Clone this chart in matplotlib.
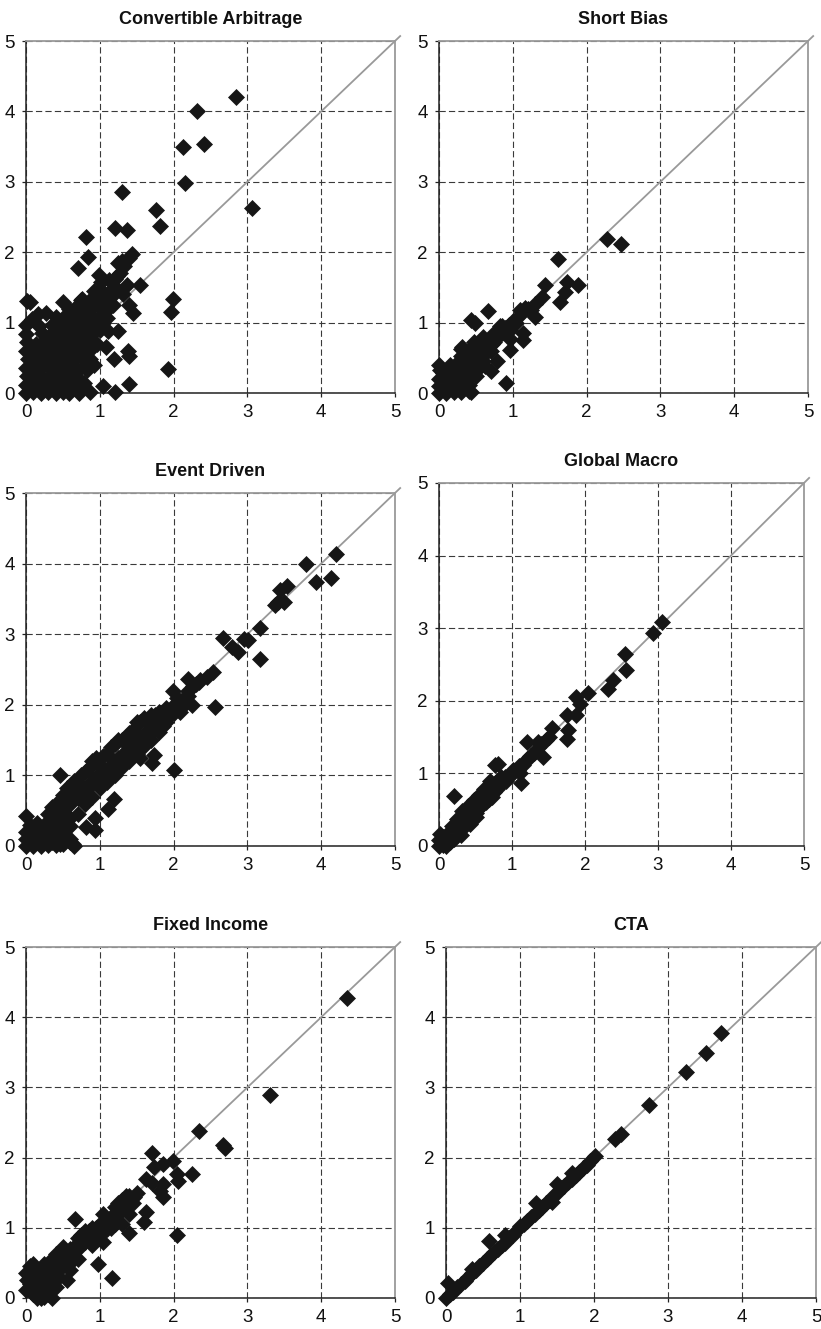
import matplotlib
matplotlib.use("Agg")
import matplotlib.pyplot as plt

plt.rcParams['font.family'] = ['Liberation Sans', 'DejaVu Sans']
plt.rcParams['lines.scale_dashes'] = False

# ---------------- data ----------------
titles = ["Convertible Arbitrage", "Short Bias", "Event Driven",
          "Global Macro", "Fixed Income", "CTA"]
tick_values = [0, 1, 2, 3, 4, 5]

# Convertible Arbitrage
ca_out_x = [2.85, 2.32, 2.41, 2.13, 2.16, 3.06, 1.30, 1.76, 1.81, 1.20,
            1.37, 0.81, 0.84, 0.71, 1.43, 1.39, 1.25, 1.23, 0.99, 1.54,
            1.37, 1.32, 1.39, 1.45, 1.99, 1.96, 1.92, 1.40, 1.21, 1.04,
            1.25, 1.11, 1.19, 1.38, 1.39, 1.09, 0.96, 0.92, 0.87, 0.83,
            0.01, 0.06, 0.27, 0.16, 0.08, 0.50, 0.00, 0.76]
ca_out_y = [4.20, 4.00, 3.53, 3.50, 2.98, 2.63, 2.85, 2.60, 2.37, 2.34,
            2.32, 2.21, 1.93, 1.77, 1.98, 1.92, 1.85, 1.66, 1.68, 1.53,
            1.54, 1.40, 1.25, 1.13, 1.34, 1.15, 0.34, 0.13, 0.01, 0.10,
            0.88, 0.88, 0.49, 0.60, 0.52, 0.65, 0.70, 0.40, 0.48, 0.32,
            1.30, 1.29, 1.14, 1.12, 1.05, 1.29, 0.97, 1.34]
ca_core_x = [0.00, 0.10, 0.20, 0.30, 0.40, 0.50, 0.58, 0.72, 0.87,
             0.00, 0.08, 0.18, 0.28, 0.38, 0.48, 0.60, 0.68, 0.78,
             0.02, 0.12, 0.22, 0.32, 0.42, 0.52, 0.62, 0.72,
             0.00, 0.10, 0.20, 0.30, 0.40, 0.50, 0.60, 0.70, 0.80,
             0.03, 0.13, 0.23, 0.33, 0.43, 0.53, 0.63, 0.73,
             0.00, 0.10, 0.20, 0.30, 0.40, 0.50, 0.60, 0.70, 0.80, 0.90,
             0.02, 0.14, 0.25, 0.35, 0.45, 0.55, 0.65, 0.75, 0.85,
             0.00, 0.22, 0.32, 0.42, 0.52, 0.62, 0.72, 0.82, 0.92, 1.00,
             0.18, 0.35, 0.45, 0.55, 0.65, 0.75, 0.85, 0.95, 1.05,
             0.40, 0.50, 0.60, 0.70, 0.80, 0.90, 1.00, 1.10,
             0.58, 0.68, 0.78, 0.90, 1.00, 1.10, 1.18,
             0.74, 0.86, 0.96, 1.06, 1.15,
             0.92, 1.02, 1.12, 1.20,
             1.02, 1.12, 1.20, 1.28, 1.33, 1.30]
ca_core_y = [0.00, 0.01, 0.00, 0.02, 0.00, 0.01, 0.00, 0.00, 0.01,
             0.12, 0.10, 0.13, 0.11, 0.12, 0.10, 0.13, 0.08, 0.14,
             0.24, 0.25, 0.23, 0.24, 0.26, 0.22, 0.25, 0.20,
             0.36, 0.37, 0.35, 0.38, 0.36, 0.34, 0.37, 0.33, 0.38,
             0.48, 0.50, 0.47, 0.49, 0.48, 0.50, 0.46, 0.52,
             0.60, 0.62, 0.58, 0.61, 0.60, 0.63, 0.59, 0.62, 0.60, 0.64,
             0.72, 0.70, 0.74, 0.72, 0.73, 0.71, 0.74, 0.72, 0.75,
             0.84, 0.85, 0.83, 0.86, 0.84, 0.86, 0.83, 0.87, 0.86, 0.90,
             0.95, 0.97, 0.96, 0.98, 0.95, 0.97, 0.99, 0.96, 1.00,
             1.08, 1.06, 1.09, 1.07, 1.10, 1.08, 1.10, 1.06,
             1.20, 1.22, 1.19, 1.21, 1.23, 1.18, 1.25,
             1.32, 1.30, 1.34, 1.31, 1.36,
             1.45, 1.47, 1.44, 1.50,
             1.58, 1.60, 1.62, 1.70, 1.80, 1.88]

# Short Bias
sb_out_x = [2.27, 2.47, 1.61, 1.88, 1.73, 1.71, 1.64, 1.43, 1.40, 1.30,
            1.30, 1.16, 1.10, 0.67, 0.43, 0.49, 1.14, 1.14, 0.96, 0.96,
            0.91, 0.71, 0.43, 0.31, 0.78, 1.05, 0.96]
sb_out_y = [2.19, 2.11, 1.90, 1.54, 1.58, 1.44, 1.29, 1.53, 1.36, 1.27,
            1.08, 1.21, 1.18, 1.17, 1.03, 1.00, 0.75, 0.85, 0.76, 0.61,
            0.14, 0.31, 0.02, 0.66, 0.45, 1.00, 0.90]
sb_core_x = [0.00, 0.10, 0.20, 0.30, 0.40,
             0.00, 0.10, 0.20, 0.30, 0.40,
             0.00, 0.10, 0.20, 0.30, 0.40, 0.50,
             0.02, 0.12, 0.22, 0.32, 0.42, 0.52, 0.62,
             0.00, 0.15, 0.25, 0.35, 0.45, 0.55,
             0.30, 0.40, 0.50, 0.60, 0.70,
             0.30, 0.42, 0.52, 0.62, 0.72,
             0.47, 0.57, 0.67, 0.77, 0.85,
             0.60, 0.75, 0.90, 0.82, 0.95, 1.00, 1.08, 1.12, 1.20, 1.25,
             0.50, 0.60,
             0.05, 0.15, 0.25, 0.35, 0.45, 0.55, 0.65, 0.75, 0.85,
             0.05, 0.35, 0.45, 0.30]
sb_core_y = [0.00, 0.00, 0.01, 0.02, 0.03,
             0.10, 0.10, 0.09, 0.10, 0.12,
             0.20, 0.21, 0.20, 0.20, 0.22, 0.24,
             0.32, 0.30, 0.31, 0.30, 0.32, 0.33, 0.38,
             0.40, 0.40, 0.42, 0.41, 0.42, 0.45,
             0.52, 0.50, 0.53, 0.52, 0.60,
             0.63, 0.62, 0.64, 0.63, 0.70,
             0.72, 0.73, 0.74, 0.78, 0.85,
             0.80, 0.85, 0.92, 0.95, 0.97, 1.02, 1.10, 1.15, 1.20, 1.18,
             0.35, 0.45,
             0.05, 0.15, 0.25, 0.35, 0.48, 0.58, 0.68, 0.72, 0.95,
             0.28, 0.15, 0.30, 0.05]

# Event Driven
ed_out_x = [4.20, 3.80, 3.93, 4.13, 3.44, 3.53, 3.49, 3.38, 3.41, 3.17,
            3.17, 3.01, 2.95, 2.67, 2.79, 2.87, 2.54, 2.45, 2.36, 2.20,
            2.26, 2.56, 2.25, 1.99, 2.00, 2.09, 2.13, 1.73, 1.71, 1.55,
            0.46, 1.19, 1.11, 0.93, 0.81, 0.94, 0.60, 0.64, 0.46, 0.00]
ed_out_y = [4.13, 3.99, 3.74, 3.80, 3.62, 3.68, 3.45, 3.41, 3.45, 3.09,
            2.65, 2.92, 2.93, 2.94, 2.82, 2.75, 2.46, 2.40, 2.35, 2.37,
            2.26, 1.97, 2.00, 2.19, 1.07, 1.90, 2.07, 1.29, 1.18, 1.24,
            1.00, 0.66, 0.52, 0.23, 0.27, 0.39, 0.10, 0.03, 0.03, 0.42]
ed_core_x = [0.00, 0.10, 0.20, 0.30, 0.40, 0.50,
             0.00, 0.10, 0.20, 0.30, 0.40, 0.50,
             0.00, 0.10, 0.20, 0.30, 0.40,
             0.05, 0.15, 0.25, 0.35, 0.45, 0.55, 0.60,
             0.30, 0.40, 0.45, 0.40, 0.50, 0.55,
             0.50, 0.60, 0.65, 0.60, 0.70, 0.75,
             0.70, 0.80, 0.85, 0.75, 0.90, 0.95,
             0.85, 1.00, 1.05, 0.95, 1.10, 1.15,
             1.05, 1.20, 1.25, 1.15, 1.30, 1.35,
             1.25, 1.40, 1.45, 1.40, 1.50, 1.55,
             1.50, 1.60, 1.65, 1.60, 1.70, 1.75,
             1.75, 1.85, 1.85, 1.90, 1.95, 2.00,
             2.05, 2.10, 2.20,
             0.60, 0.65, 0.55, 0.25, 0.15, 0.05, 0.35, 0.45, 0.50, 0.60,
             0.70, 0.80, 0.90, 1.00, 1.10, 0.35, 0.55, 0.65, 0.80, 0.90,
             1.00, 1.10, 1.20, 1.30, 1.35, 1.45, 1.55, 1.70, 1.80, 1.20,
             1.30, 1.40, 1.50, 1.60, 1.70, 1.80, 1.90, 2.00, 2.10, 2.20,
             2.30, 2.35]
ed_core_y = [0.00, 0.00, 0.00, 0.02, 0.01, 0.03,
             0.10, 0.10, 0.12, 0.10, 0.12, 0.15,
             0.20, 0.22, 0.20, 0.20, 0.25,
             0.30, 0.32, 0.30, 0.35, 0.30, 0.25, 0.40,
             0.45, 0.42, 0.55, 0.60, 0.50, 0.65,
             0.72, 0.60, 0.72, 0.80, 0.68, 0.80,
             0.90, 0.78, 0.88, 1.00, 0.88, 0.98,
             1.10, 0.95, 1.05, 1.25, 1.05, 1.15,
             1.28, 1.12, 1.25, 1.40, 1.22, 1.35,
             1.50, 1.30, 1.45, 1.60, 1.40, 1.55,
             1.75, 1.50, 1.65, 1.82, 1.60, 1.75,
             1.85, 1.70, 1.85, 1.95, 1.85, 2.00,
             2.10, 2.05, 2.20,
             0.05, 0.00, 0.10, 0.10, 0.05, 0.15, 0.05, 0.20, 0.35, 0.28,
             0.45, 0.60, 0.70, 0.82, 0.90, 0.55, 0.82, 0.92, 1.05, 1.20,
             1.15, 1.30, 1.45, 1.50, 1.55, 1.65, 1.75, 1.85, 1.90, 1.00,
             1.12, 1.20, 1.30, 1.42, 1.50, 1.62, 1.75, 1.88, 1.95, 2.12,
             2.30, 2.32]

# Global Macro
gm_out_x = [3.06, 2.93, 2.55, 2.56, 2.39, 2.32, 2.04, 1.87, 1.93, 1.87,
            1.75, 1.75, 1.77, 1.55, 1.43, 1.47, 1.20, 1.36, 1.13, 1.11,
            1.24, 0.77, 0.81, 0.20]
gm_out_y = [3.09, 2.94, 2.64, 2.42, 2.28, 2.16, 2.11, 2.05, 1.96, 1.80,
            1.80, 1.48, 1.60, 1.63, 1.23, 1.46, 1.43, 1.43, 0.87, 1.00,
            1.24, 1.11, 1.13, 0.69]
gm_core_x = [0.00, 0.05, 0.10, 0.15, 0.20, 0.00, 0.05, 0.10, 0.02, 0.12,
             0.20, 0.25, 0.30, 0.18, 0.28, 0.35, 0.25, 0.35, 0.42, 0.32,
             0.42, 0.50, 0.40, 0.50, 0.58, 0.48, 0.58, 0.65, 0.55, 0.65,
             0.72, 0.62, 0.72, 0.80, 0.78, 0.87, 0.90, 0.98, 1.02, 1.08,
             1.15, 1.20, 1.30, 1.40, 1.50, 0.70, 0.85, 0.50, 0.42, 0.30,
             0.08, 0.15, 0.25, 0.33, 0.45, 0.52, 0.60, 0.68, 0.75, 0.82,
             0.92, 1.00, 1.10, 1.25, 1.35, 0.38, 0.60]
gm_core_y = [0.00, 0.02, 0.00, 0.05, 0.10, 0.08, 0.12, 0.10, 0.17, 0.18,
             0.20, 0.15, 0.22, 0.28, 0.30, 0.30, 0.37, 0.40, 0.38, 0.48,
             0.47, 0.45, 0.55, 0.55, 0.55, 0.63, 0.65, 0.60, 0.70, 0.72,
             0.68, 0.78, 0.80, 0.78, 0.88, 0.88, 0.95, 0.98, 1.05, 1.05,
             1.12, 1.20, 1.28, 1.40, 1.50, 0.90, 0.95, 0.40, 0.30, 0.15,
             0.05, 0.12, 0.25, 0.35, 0.42, 0.50, 0.60, 0.65, 0.75, 0.85,
             0.90, 1.00, 1.10, 1.22, 1.35, 0.48, 0.72]

# Fixed Income
fi_out_x = [4.35, 3.30, 2.34, 2.67, 2.69, 2.25, 1.71, 1.73, 1.86, 1.99,
            2.04, 2.06, 2.04, 1.86, 1.82, 1.85, 1.62, 1.71, 1.62, 1.60,
            0.67, 1.05, 0.98, 1.17, 1.39, 1.46, 1.50]
fi_out_y = [4.28, 2.89, 2.38, 2.18, 2.14, 1.77, 2.06, 1.87, 1.91, 1.95,
            1.77, 1.66, 0.90, 1.63, 1.53, 1.44, 1.70, 1.64, 1.23, 1.08,
            1.12, 1.20, 0.48, 0.28, 0.92, 1.44, 1.49]
fi_core_x = [0.00, 0.05, 0.10, 0.05, 0.10, 0.15, 0.20, 0.15, 0.25, 0.35,
             0.10, 0.20, 0.25, 0.30, 0.35, 0.40, 0.30, 0.40, 0.45, 0.35,
             0.45, 0.50, 0.40, 0.50, 0.55, 0.60, 0.55, 0.60, 0.65, 0.70,
             0.75, 0.80, 0.85, 0.90, 0.90, 0.95, 1.00, 1.05, 1.05, 1.10,
             1.15, 1.20, 1.25, 1.30, 1.35, 1.40, 1.30, 1.40, 0.20, 0.02,
             0.00, 0.05, 0.10, 0.15, 0.20, 0.25, 0.30, 0.30, 0.25, 0.35,
             0.40, 0.45, 0.50, 0.55, 0.60, 0.65, 0.70, 0.75, 0.80, 0.85,
             0.90, 0.95, 1.00, 1.10, 1.15, 1.20, 1.25, 1.35, 1.45, 1.20,
             0.70, 0.60]
fi_core_y = [0.12, 0.45, 0.48, 0.30, 0.30, 0.20, 0.10, 0.00, 0.02, 0.00,
             0.15, 0.25, 0.35, 0.20, 0.30, 0.15, 0.40, 0.45, 0.30, 0.55,
             0.55, 0.45, 0.62, 0.72, 0.60, 0.50, 0.25, 0.70, 0.60, 0.85,
             0.75, 0.95, 0.85, 0.75, 1.00, 0.90, 1.05, 0.95, 0.80, 1.10,
             1.00, 1.30, 1.20, 1.40, 1.30, 1.45, 1.05, 1.20, 0.42, 0.25,
             0.35, 0.20, 0.05, 0.38, 0.00, 0.15, 0.05, 0.30, 0.48, 0.42,
             0.30, 0.42, 0.60, 0.50, 0.62, 0.72, 0.70, 0.90, 0.80, 0.95,
             0.88, 1.00, 0.90, 0.98, 1.15, 1.05, 1.35, 1.45, 1.35, 1.20,
             0.55, 0.40]

# CTA
cta_out_x = [3.72, 3.51, 3.24, 2.74, 2.29, 2.37, 0.58, 1.21, 1.50, 1.43, 0.03]
cta_out_y = [3.77, 3.49, 3.22, 2.75, 2.27, 2.33, 0.81, 1.36, 1.63, 1.37, 0.22]
cta_core_x = [0.00, 0.05, 0.10, 0.15, 0.20, 0.25, 0.30, 0.35, 0.40, 0.45,
              0.50, 0.55, 0.60, 0.65, 0.70, 0.75, 0.80, 0.85, 0.90, 0.95,
              1.00, 1.05, 1.10, 1.15, 1.20, 1.25, 1.30, 1.35, 1.40, 1.45,
              1.50, 1.55, 1.60, 1.65, 1.70, 1.75, 1.80, 1.85, 1.90, 1.95,
              2.02, 0.35, 0.80, 1.70]
cta_core_y = [0.00, 0.05, 0.08, 0.15, 0.20, 0.24, 0.30, 0.36, 0.40, 0.45,
              0.50, 0.55, 0.60, 0.66, 0.70, 0.75, 0.78, 0.86, 0.90, 0.95,
              1.02, 1.05, 1.10, 1.15, 1.20, 1.25, 1.30, 1.35, 1.40, 1.45,
              1.50, 1.56, 1.60, 1.65, 1.70, 1.75, 1.80, 1.85, 1.90, 1.95,
              2.02, 0.42, 0.90, 1.78]

panel_data = [
    (ca_core_x + ca_out_x, ca_core_y + ca_out_y),
    (sb_core_x + sb_out_x, sb_core_y + sb_out_y),
    (ed_core_x + ed_out_x, ed_core_y + ed_out_y),
    (gm_core_x + gm_out_x, gm_core_y + gm_out_y),
    (fi_core_x + fi_out_x, fi_core_y + fi_out_y),
    (cta_core_x + cta_out_x, cta_core_y + cta_out_y),
]

# ---------------- layout (pixel boxes: left, top, right, bottom) ----------------
W, H = 821, 1329
boxes = [
    (26, 41, 395, 393),
    (439, 41, 808, 393),
    (26, 493, 395, 846),
    (439, 483, 804, 846),
    (26, 947, 395, 1298),
    (446, 947, 816, 1298),
]

fig = plt.figure(figsize=(W / 100, H / 100), dpi=100)
fig.patch.set_facecolor('white')

for (l, t, r, b), title, (xs, ys) in zip(boxes, titles, panel_data):
    assert len(xs) == len(ys)
    ax = fig.add_axes([l / W, 1 - b / H, (r - l) / W, (b - t) / H])
    ax.set_xlim(0, 5)
    ax.set_ylim(0, 5)
    ax.set_xticks(tick_values)
    ax.set_yticks(tick_values)
    ax.grid(True, color='#3a3a3a', linewidth=0.8, dashes=(4.5, 2.3))
    ax.set_axisbelow(True)
    ax.plot([0, 5.07], [0, 5.07], color='#999999', linewidth=1.3,
            clip_on=False, zorder=2)
    ax.plot(xs, ys, linestyle='none', marker='D', markersize=8.5,
            color='#161616', markeredgecolor='#161616', markeredgewidth=0.5,
            clip_on=False, zorder=3)
    for side in ['top', 'right']:
        ax.spines[side].set_color('#9a9a9a')
        ax.spines[side].set_linewidth(1.3)
    for side in ['left', 'bottom']:
        ax.spines[side].set_color('#222222')
        ax.spines[side].set_linewidth(1.1)
    ax.tick_params(axis='both', direction='out', length=3, width=0.9,
                   color='#222222', labelsize=13.5, pad=5, labelcolor='#111111')
    ax.set_title(title, fontsize=13, fontweight='bold', pad=12, color='#111111')

fig.savefig('out.png', dpi=100, facecolor='white')
